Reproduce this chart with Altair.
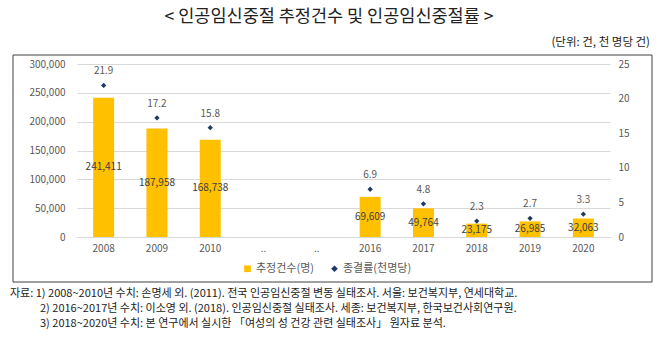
import altair as alt
import pandas as pd

# ---- data ----
categories = ["2008", "2009", "2010", "gap1", "gap2", "2016", "2017", "2018", "2019", "2020"]
tick_labels = ["2008", "2009", "2010", "..", "..", "2016", "2017", "2018", "2019", "2020"]
counts = [241411, 187958, 168738, None, None, 69609, 49764, 23175, 26985, 32063]
rates = [21.9, 17.2, 15.8, None, None, 6.9, 4.8, 2.3, 2.7, 3.3]
series_names = ["추정건수(명)", "종결률(천명당)"]
left_ticks = [0, 50000, 100000, 150000, 200000, 250000, 300000]
right_ticks = [0, 5, 10, 15, 20, 25]

title_text = "< 인공임신중절 추정건수 및 인공임신중절률 >"
unit_text = "(단위: 건, 천 명당 건)"
notes = [
    "자료: 1) 2008~2010년 수치: 손명세 외. (2011). 전국 인공임신중절 변동 실태조사. 서울: 보건복지부, 연세대학교.",
    "2) 2016~2017년 수치: 이소영 외. (2018). 인공임신중절 실태조사. 세종: 보건복지부, 한국보건사회연구원.",
    "3) 2018~2020년 수치: 본 연구에서 실시한 「여성의 성 건강 관련 실태조사」 원자료 분석.",
]

FONT = "Noto Sans CJK KR"
YELLOW = "#FFC000"
NAVY = "#1F3864"
GRAY = "#595959"

df = pd.DataFrame({
    "cat": categories,
    "count": counts,
    "rate": rates,
    "s_bar": [series_names[0]] * len(categories),
    "s_pt": [series_names[1]] * len(categories),
})

label_expr = " : ".join(
    [f"datum.value == '{c}' ? '{t}'" for c, t in zip(categories, tick_labels)] + ["datum.value"]
)

x_enc = alt.X(
    "cat:N",
    sort=categories,
    scale=alt.Scale(domain=categories, paddingInner=0, paddingOuter=0),
    axis=alt.Axis(
        title=None, labelExpr=label_expr, labelAngle=0, ticks=False,
        domainColor="#D9D9D9", labelColor=GRAY, labelFont=FONT, labelFontSize=10,
        labelPadding=6, grid=False,
    ),
)

color_scale = alt.Scale(domain=series_names, range=[YELLOW, NAVY])
shape_scale = alt.Scale(domain=series_names, range=["square", "diamond"])
legend = alt.Legend(
    title=None, orient="none", legendX=165, legendY=199, direction="horizontal",
    labelFont=FONT, labelFontSize=11, labelColor=GRAY, symbolSize=45,
    columnPadding=14, labelOffset=3,
)

left_axis = alt.Axis(
    title=None, values=left_ticks, format=",d", ticks=False, domain=False,
    grid=True, gridColor="#D9D9D9", labelColor=GRAY, labelFont=FONT,
    labelFontSize=10, labelPadding=12,
)
right_axis = alt.Axis(
    title=None, values=right_ticks, orient="right", ticks=False, domain=False,
    grid=False, labelColor=GRAY, labelFont=FONT, labelFontSize=10, labelPadding=8,
)

y_left = alt.Scale(domain=[0, 300000])
y_right = alt.Scale(domain=[0, 25])

base = alt.Chart(df)

bars = base.transform_filter("isValid(datum.count)").mark_bar(size=21).encode(
    x=x_enc,
    y=alt.Y("count:Q", scale=y_left, axis=left_axis),
    color=alt.Color("s_bar:N", scale=color_scale, legend=legend),
)
bar_text = base.transform_filter("isValid(datum.count)").transform_calculate(
    mid="datum.count / 2"
).mark_text(font=FONT, fontSize=10, color="#404040").encode(
    x=x_enc,
    y=alt.Y("mid:Q", scale=y_left, axis=left_axis),
    text=alt.Text("count:Q", format=",d"),
)
left = alt.layer(bars, bar_text)

points = base.transform_filter("isValid(datum.rate)").mark_point(
    filled=True, size=28, opacity=1
).encode(
    x=x_enc,
    y=alt.Y("rate:Q", scale=y_right, axis=right_axis),
    color=alt.Color("s_pt:N", scale=color_scale, legend=legend),
    shape=alt.Shape("s_pt:N", scale=shape_scale, legend=legend),
)
pt_text = base.transform_filter("isValid(datum.rate)").mark_text(
    font=FONT, fontSize=10, color=GRAY, dy=-14
).encode(
    x=x_enc,
    y=alt.Y("rate:Q", scale=y_right, axis=right_axis),
    text=alt.Text("rate:Q", format=".1f"),
)
right = alt.layer(points, pt_text)

one = pd.DataFrame({"k": [0]})
border = alt.Chart(one).mark_rect(fill=None, stroke="#404040", strokeWidth=1).encode(
    x=alt.value(-64), x2=alt.value(575), y=alt.value(-9), y2=alt.value(218)
)
title = alt.Chart(one).mark_text(
    text=title_text, font=FONT, fontSize=17.5, color="#222222", align="center", baseline="middle"
).encode(x=alt.value(252), y=alt.value(-47))
unit = alt.Chart(one).mark_text(
    text=unit_text, font=FONT, fontSize=11.5, color="#222222", align="right", baseline="middle"
).encode(x=alt.value(573), y=alt.value(-21))
note_layers = []
note_pos = [(-67, 230), (-37, 245), (-37, 260)]
for txt, (nx, ny) in zip(notes, note_pos):
    note_layers.append(
        alt.Chart(one).mark_text(
            text=txt, font=FONT, fontSize=11, color="#222222", align="left", baseline="middle"
        ).encode(x=alt.value(nx), y=alt.value(ny))
    )

chart = alt.layer(left, right, border, title, unit, *note_layers).resolve_scale(
    y="independent"
).properties(
    width=533, height=173,
    autosize=alt.AutoSizeParams(type="none"),
    padding={"left": 77, "top": 64, "right": 48, "bottom": 104},
    background="white",
).configure_view(stroke=None)

chart.save("out.html", embed_options={"renderer": "svg", "actions": False})
